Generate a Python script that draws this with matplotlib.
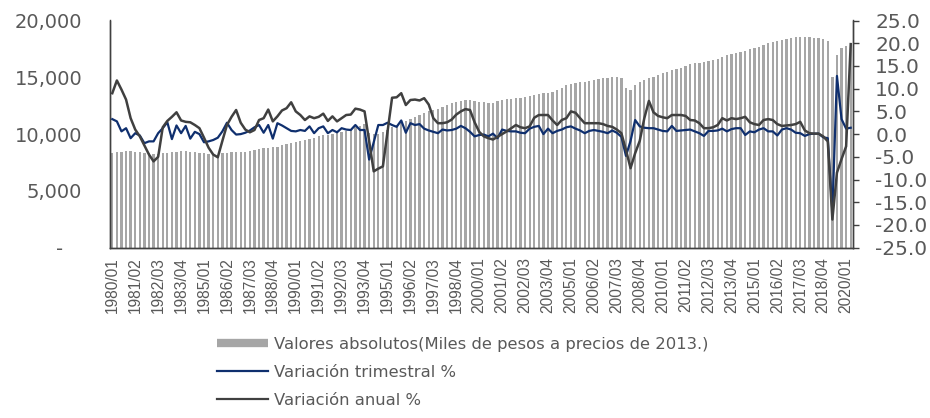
import matplotlib
matplotlib.use("Agg")
import matplotlib.pyplot as plt
from matplotlib.lines import Line2D
from matplotlib.ticker import FuncFormatter, FixedLocator
import numpy as np

# ---------------- data ----------------
years = list(range(1980, 2021))
quarters = [f"{y}/{q:02d}" for y in years for q in range(1, 5)][:162]

valores_absolutos = [
    8300, 8400, 8450, 8500,
    8500, 8450, 8400, 8350,
    8300, 8250, 8250, 8300,
    8350, 8400, 8450, 8500,
    8500, 8450, 8400, 8350,
    8300, 8250, 8200, 8200,
    8300, 8350, 8400, 8400,
    8400, 8450, 8500, 8600,
    8700, 8750, 8800, 8850,
    8900, 9000, 9100, 9200,
    9300, 9400, 9500, 9600,
    9700, 9800, 9900, 9950,
    10000, 10100, 10200, 10300,
    10450, 10600, 10750, 10850,
    10100, 10000, 10050, 10150,
    10350, 10650, 10800, 10950,
    11150, 11300, 11500, 11700,
    11850, 12000, 12150, 12250,
    12400, 12550, 12700, 12800,
    12900, 13000, 13000, 12950,
    12850, 12800, 12700, 12750,
    12900, 13000, 13050, 13100,
    13150, 13200, 13300, 13350,
    13400, 13500, 13600, 13650,
    13700, 13850, 14050, 14300,
    14400, 14500, 14550, 14600,
    14700, 14800, 14850, 14900,
    14950, 15000, 15050, 14950,
    14100, 13850, 14300, 14550,
    14750, 14900, 15050, 15200,
    15350, 15500, 15640, 15750,
    15850, 16000, 16150, 16260,
    16300, 16350, 16400, 16500,
    16650, 16800, 16950, 17050,
    17140, 17250, 17350, 17450,
    17550, 17700, 17850, 18000,
    18100, 18200, 18300, 18400,
    18500, 18550, 18580, 18580,
    18550, 18500, 18490, 18400,
    18200, 15050, 16980, 17570,
    17750, 17980,
]

variacion_trimestral = [
    3.3, 2.8, 0.6, 1.3,
    -0.9, 0.2, -0.3, -2.0,
    -1.6, -1.6, 0.2, 1.3,
    2.6, -1.1, 1.9, 0.2,
    1.8, -1.0, 0.5, 0.0,
    -1.8, -1.6, -1.3, -0.8,
    0.6, 2.5, 0.9, -0.1,
    0.0, 0.3, 0.8, 1.5,
    2.0, 0.3, 2.0, -1.0,
    2.4, 1.9, 1.3, 0.7,
    0.6, 0.9, 0.7, 1.7,
    0.2, 1.3, 1.7, 0.2,
    0.9, 0.4, 1.3, 1.0,
    0.9, 2.0, 0.9, 0.9,
    -5.6, -1.8, 2.0, 2.0,
    2.5, 2.0, 1.6, 3.0,
    0.3, 2.4, 2.0, 2.2,
    1.2, 0.8, 0.5, 0.2,
    1.0, 0.8, 0.9, 1.2,
    1.8, 1.3, 0.5, -0.5,
    -0.2, -0.1, -0.5, 0.1,
    -0.9, 1.0, 0.7, 0.6,
    0.6, 0.3, 0.2, 1.2,
    1.6, 1.8, 0.0, 1.2,
    0.2, 0.7, 1.0, 1.5,
    1.7, 1.2, 0.8, 0.2,
    0.7, 0.9, 0.7, 0.5,
    0.2, 0.8, 0.3, -0.6,
    -4.8, -1.5, 3.1, 1.7,
    1.4, 1.3, 1.3, 1.0,
    0.7, 0.6, 1.8, 0.7,
    0.8, 0.9, 1.0, 0.6,
    0.2, -0.4, 0.7, 0.7,
    0.8, 1.2, 0.6, 1.1,
    1.3, 1.3, -0.2, 0.6,
    0.4, 1.0, 1.3, 0.6,
    0.6, -0.3, 1.0, 1.3,
    1.0, 0.3, 0.2, -0.4,
    0.0, 0.1, 0.1, -0.7,
    -0.9, -17.0, 12.8, 3.3,
    1.2, 1.4,
]

variacion_anual = [
    9.0, 11.8, 9.8, 7.6,
    3.5, 1.0, -0.5, -2.5,
    -4.5, -6.0, -5.0, 1.5,
    2.9, 3.8, 4.8, 3.0,
    2.7, 2.6, 2.0, 1.3,
    -0.8, -3.0, -4.5, -5.1,
    -1.5, 2.0, 3.8, 5.3,
    2.5, 1.0, 0.4, 0.9,
    3.1, 3.5, 5.4, 2.8,
    3.9, 5.2, 5.7, 7.0,
    5.0, 4.2, 3.1, 3.9,
    3.5, 3.8, 4.5, 2.9,
    3.9, 2.8, 3.5, 4.2,
    4.3, 5.6, 5.4, 5.0,
    -1.5, -8.2, -7.6, -7.1,
    0.5, 8.0, 8.1, 9.0,
    6.4, 7.5, 7.6, 7.4,
    7.9, 6.5, 3.5, 2.4,
    2.4, 2.6, 3.2, 4.3,
    5.0, 5.5, 5.3, 2.6,
    0.5, -0.5, -0.9, -1.2,
    -0.6, 0.0, 0.6, 1.3,
    2.0, 1.5, 1.3, 1.7,
    3.6, 4.2, 4.2, 4.2,
    3.0, 2.0, 3.1, 3.5,
    5.0, 4.7, 3.5, 2.4,
    2.4, 2.4, 2.4, 2.2,
    1.8, 1.6, 1.0, 0.2,
    -3.5, -7.5, -4.2, -1.5,
    3.5, 7.3, 4.8, 4.0,
    3.7, 3.5, 4.2, 4.2,
    4.2, 4.0, 3.1, 3.0,
    2.4, 1.3, 1.3, 1.5,
    2.0, 3.5, 3.0, 3.5,
    3.3, 3.5, 3.8, 2.6,
    2.2, 2.0, 3.1, 3.3,
    3.1, 2.2, 1.8, 1.9,
    2.0, 2.2, 2.7, 0.8,
    0.2, 0.1, 0.1, -0.5,
    -1.6, -18.8, -8.5, -5.5,
    -2.7, 19.8,
]

left_ticks = [0, 5000, 10000, 15000, 20000]
right_ticks = [-25, -20, -15, -10, -5, 0, 5, 10, 15, 20, 25]
label_every = 5

legend_labels = [
    "Valores absolutos(Miles de pesos a precios de 2013.)",
    "Variación trimestral %",
    "Variación anual %",
]

# ---------------- style ----------------
plt.rcParams['font.family'] = ['DejaVu Sans']
TXT = '#595959'
BAR = '#a6a6a6'
BLUE = '#0f2f6e'
GREY = '#404040'
SPINE = '#404040'

fig = plt.figure(figsize=(9.3, 4.18), dpi=100)
ax = fig.add_axes([110/930, 1 - 247.7/418, (853 - 110)/930, (247.7 - 20.5)/418])
ax2 = ax.twinx()

x = np.arange(len(quarters))
ax.bar(x, valores_absolutos, width=0.5, color=BAR, zorder=1)
ax.set_xlim(-0.5, len(quarters) - 0.5)
ax.set_ylim(0, 20000)
ax.yaxis.set_major_locator(FixedLocator(left_ticks))
ax.yaxis.set_major_formatter(FuncFormatter(lambda v, p: "-   " if v == 0 else f"{int(v):,}"))
ax.tick_params(axis='y', length=0, pad=20, labelsize=14, labelcolor=TXT)

tick_pos = x[::label_every]
ax.set_xticks(tick_pos)
ax.set_xticklabels([quarters[i] for i in tick_pos], rotation=90, fontsize=11.2,
                   color=TXT, family=['Liberation Sans', 'DejaVu Sans'])
ax.tick_params(axis='x', length=0, pad=7)

ax2.plot(x, variacion_trimestral, color=BLUE, lw=1.6, zorder=3)
ax2.plot(x, variacion_anual, color=GREY, lw=1.8, zorder=4)
ax2.set_ylim(-25, 25)
ax2.yaxis.set_major_locator(FixedLocator(right_ticks))
ax2.yaxis.set_major_formatter(FuncFormatter(lambda v, p: f"{v:.1f}"))
ax2.tick_params(axis='y', direction='out', length=4, width=1, color=SPINE,
                pad=12, labelsize=14.5, labelcolor=TXT)

for a in (ax, ax2):
    a.spines['top'].set_visible(False)
    for s in ('left', 'right', 'bottom'):
        a.spines[s].set_color(SPINE)
        a.spines[s].set_linewidth(1.0)
ax.patch.set_visible(False)

handles = [
    Line2D([], [], color=BAR, lw=6, solid_capstyle='butt'),
    Line2D([], [], color=BLUE, lw=1.6),
    Line2D([], [], color=GREY, lw=1.6),
]
fig.legend(handles, legend_labels, loc='upper left',
           bbox_to_anchor=(217/930, 1 - 337/418), frameon=False,
           fontsize=11.8, labelcolor=TXT, handlelength=3.1, handletextpad=0.35,
           labelspacing=0.78, borderaxespad=0, borderpad=0)

fig.savefig("out.png", dpi=100)
